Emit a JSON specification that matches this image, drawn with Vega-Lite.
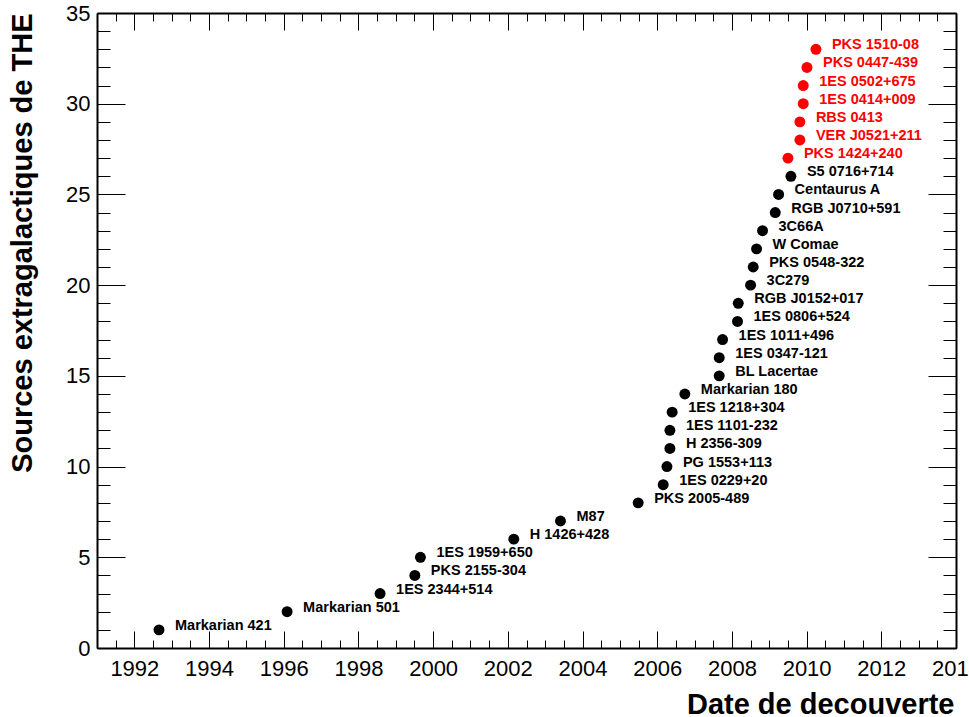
{
  "$schema": "https://vega.github.io/schema/vega-lite/v6.json",
  "width": 859,
  "height": 635,
  "autosize": {"type": "none"},
  "padding": {"left": 97, "top": 13, "right": 13, "bottom": 69},
  "background": "white",
  "config": {
    "view": {"stroke": null},
    "font": "Liberation Sans",
    "axis": {
      "domainColor": "black",
      "domainWidth": 2,
      "tickColor": "black",
      "tickWidth": 1,
      "grid": false,
      "labelFont": "Liberation Sans",
      "labelFontSize": 22,
      "labelColor": "black",
      "titleFont": "Liberation Sans",
      "titleColor": "black"
    }
  },
  "data": {
    "values": [
      {"nom": "Markarian 421", "date": 1992.66, "n": 1, "groupe": "ancien"},
      {"nom": "Markarian 501", "date": 1996.09, "n": 2, "groupe": "ancien"},
      {"nom": "1ES 2344+514", "date": 1998.58, "n": 3, "groupe": "ancien"},
      {"nom": "PKS 2155-304", "date": 1999.51, "n": 4, "groupe": "ancien"},
      {"nom": "1ES 1959+650", "date": 1999.66, "n": 5, "groupe": "ancien"},
      {"nom": "H 1426+428", "date": 2002.16, "n": 6, "groupe": "ancien"},
      {"nom": "M87", "date": 2003.41, "n": 7, "groupe": "ancien"},
      {"nom": "PKS 2005-489", "date": 2005.49, "n": 8, "groupe": "ancien"},
      {"nom": "1ES 0229+20", "date": 2006.16, "n": 9, "groupe": "ancien"},
      {"nom": "PG 1553+113", "date": 2006.26, "n": 10, "groupe": "ancien"},
      {"nom": "H 2356-309", "date": 2006.34, "n": 11, "groupe": "ancien"},
      {"nom": "1ES 1101-232", "date": 2006.34, "n": 12, "groupe": "ancien"},
      {"nom": "1ES 1218+304", "date": 2006.40, "n": 13, "groupe": "ancien"},
      {"nom": "Markarian 180", "date": 2006.74, "n": 14, "groupe": "ancien"},
      {"nom": "BL Lacertae", "date": 2007.66, "n": 15, "groupe": "ancien"},
      {"nom": "1ES 0347-121", "date": 2007.66, "n": 16, "groupe": "ancien"},
      {"nom": "1ES 1011+496", "date": 2007.75, "n": 17, "groupe": "ancien"},
      {"nom": "1ES 0806+524", "date": 2008.15, "n": 18, "groupe": "ancien"},
      {"nom": "RGB J0152+017", "date": 2008.17, "n": 19, "groupe": "ancien"},
      {"nom": "3C279", "date": 2008.50, "n": 20, "groupe": "ancien"},
      {"nom": "PKS 0548-322", "date": 2008.57, "n": 21, "groupe": "ancien"},
      {"nom": "W Comae", "date": 2008.66, "n": 22, "groupe": "ancien"},
      {"nom": "3C66A", "date": 2008.82, "n": 23, "groupe": "ancien"},
      {"nom": "RGB J0710+591", "date": 2009.16, "n": 24, "groupe": "ancien"},
      {"nom": "Centaurus A", "date": 2009.25, "n": 25, "groupe": "ancien"},
      {"nom": "S5 0716+714", "date": 2009.58, "n": 26, "groupe": "ancien"},
      {"nom": "PKS 1424+240", "date": 2009.50, "n": 27, "groupe": "nouveau"},
      {"nom": "VER J0521+211", "date": 2009.82, "n": 28, "groupe": "nouveau"},
      {"nom": "RBS 0413", "date": 2009.82, "n": 29, "groupe": "nouveau"},
      {"nom": "1ES 0414+009", "date": 2009.91, "n": 30, "groupe": "nouveau"},
      {"nom": "1ES 0502+675", "date": 2009.91, "n": 31, "groupe": "nouveau"},
      {"nom": "PKS 0447-439", "date": 2010.01, "n": 32, "groupe": "nouveau"},
      {"nom": "PKS 1510-08", "date": 2010.25, "n": 33, "groupe": "nouveau"}
    ]
  },
  "resolve": {"axis": {"x": "independent", "y": "independent"}},
  "layer": [
    {
      "mark": {"type": "circle", "size": 120, "opacity": 1},
      "encoding": {
        "x": {"field": "date", "type": "quantitative",
          "scale": {"domain": [1991, 2014], "nice": false, "zero": false},
          "axis": {"orient": "bottom", "values": [1992, 1994, 1996, 1998, 2000, 2002, 2004, 2006, 2008, 2010, 2012, 2014],
            "tickSize": -17, "labelPadding": 27, "labelFlush": false, "labelOverlap": false, "format": "d",
            "title": "Date de decouverte", "titleFontSize": 29, "titleFontWeight": "bold",
            "titleAnchor": "end", "titleAlign": "right", "titleBaseline": "alphabetic", "titleX": 857, "titleY": 65}},
        "y": {"field": "n", "type": "quantitative",
          "scale": {"domain": [0, 35], "nice": false, "zero": false},
          "axis": {"orient": "left", "values": [0, 5, 10, 15, 20, 25, 30, 35],
            "tickSize": -28, "labelPadding": 35, "labelOverlap": false, "labelFlush": false,
            "title": "Sources extragalactiques de THE", "titleFontSize": 29, "titleFontWeight": "bold",
            "titleAngle": -90, "titleAlign": "right", "titleBaseline": "alphabetic", "titleX": -66, "titleY": 0}},
        "color": {"field": "groupe", "type": "nominal",
          "scale": {"domain": ["ancien", "nouveau"], "range": ["#000000", "#ff0000"]}, "legend": null}
      }
    },
    {
      "mark": {"type": "text", "align": "left", "baseline": "alphabetic", "dx": 16, "dy": 0,
        "font": "Liberation Sans", "fontWeight": "bold", "fontSize": 14.5},
      "encoding": {
        "x": {"field": "date", "type": "quantitative", "scale": {"domain": [1991, 2014], "nice": false, "zero": false}, "axis": null},
        "y": {"field": "n", "type": "quantitative", "scale": {"domain": [0, 35], "nice": false, "zero": false}, "axis": null},
        "text": {"field": "nom"},
        "color": {"field": "groupe", "type": "nominal",
          "scale": {"domain": ["ancien", "nouveau"], "range": ["#000000", "#ff0000"]}, "legend": null}
      }
    },
    {
      "mark": {"type": "point", "opacity": 0},
      "encoding": {
        "x": {"field": "date", "type": "quantitative", "scale": {"domain": [1991, 2014], "nice": false, "zero": false},
          "axis": {"orient": "bottom", "values": [1991, 1991.5, 1992, 1992.5, 1993, 1993.5, 1994, 1994.5, 1995, 1995.5, 1996, 1996.5, 1997, 1997.5, 1998, 1998.5, 1999, 1999.5, 2000, 2000.5, 2001, 2001.5, 2002, 2002.5, 2003, 2003.5, 2004, 2004.5, 2005, 2005.5, 2006, 2006.5, 2007, 2007.5, 2008, 2008.5, 2009, 2009.5, 2010, 2010.5, 2011, 2011.5, 2012, 2012.5, 2013, 2013.5, 2014],
            "tickSize": -8, "labels": false, "domain": false, "title": null}},
        "y": {"field": "n", "type": "quantitative", "scale": {"domain": [0, 35], "nice": false, "zero": false},
          "axis": {"orient": "left", "values": [0, 1, 2, 3, 4, 5, 6, 7, 8, 9, 10, 11, 12, 13, 14, 15, 16, 17, 18, 19, 20, 21, 22, 23, 24, 25, 26, 27, 28, 29, 30, 31, 32, 33, 34, 35],
            "tickSize": -13, "labels": false, "domain": false, "title": null}}
      }
    },
    {
      "mark": {"type": "point", "opacity": 0},
      "encoding": {
        "x": {"field": "date", "type": "quantitative", "scale": {"domain": [1991, 2014], "nice": false, "zero": false},
          "axis": {"orient": "top", "values": [1992, 1994, 1996, 1998, 2000, 2002, 2004, 2006, 2008, 2010, 2012, 2014],
            "tickSize": -17, "labels": false, "title": null}},
        "y": {"field": "n", "type": "quantitative", "scale": {"domain": [0, 35], "nice": false, "zero": false},
          "axis": {"orient": "right", "values": [0, 5, 10, 15, 20, 25, 30, 35],
            "tickSize": -28, "labels": false, "title": null}}
      }
    },
    {
      "mark": {"type": "point", "opacity": 0},
      "encoding": {
        "x": {"field": "date", "type": "quantitative", "scale": {"domain": [1991, 2014], "nice": false, "zero": false},
          "axis": {"orient": "top", "values": [1991, 1991.5, 1992, 1992.5, 1993, 1993.5, 1994, 1994.5, 1995, 1995.5, 1996, 1996.5, 1997, 1997.5, 1998, 1998.5, 1999, 1999.5, 2000, 2000.5, 2001, 2001.5, 2002, 2002.5, 2003, 2003.5, 2004, 2004.5, 2005, 2005.5, 2006, 2006.5, 2007, 2007.5, 2008, 2008.5, 2009, 2009.5, 2010, 2010.5, 2011, 2011.5, 2012, 2012.5, 2013, 2013.5, 2014],
            "tickSize": -8, "labels": false, "domain": false, "title": null}},
        "y": {"field": "n", "type": "quantitative", "scale": {"domain": [0, 35], "nice": false, "zero": false},
          "axis": {"orient": "right", "values": [0, 1, 2, 3, 4, 5, 6, 7, 8, 9, 10, 11, 12, 13, 14, 15, 16, 17, 18, 19, 20, 21, 22, 23, 24, 25, 26, 27, 28, 29, 30, 31, 32, 33, 34, 35],
            "tickSize": -13, "labels": false, "domain": false, "title": null}}
      }
    }
  ]
}
